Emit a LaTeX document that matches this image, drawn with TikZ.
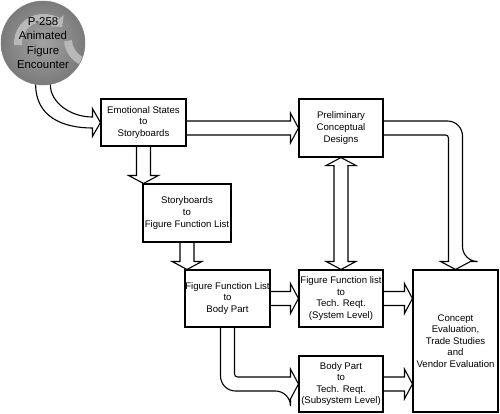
\documentclass[tikz,border=0pt]{standalone}
\usepackage{fontspec}
\setmainfont{Liberation Sans}
\usetikzlibrary{calc,arrows.meta}

% hollow block arrows: start point, tip
\newcommand{\rblock}[2]{%
  \draw[blockarr] ($(#1)+(0,-7)$) -- ($(#2)+(-8,-7)$) -- ($(#2)+(-8,-15)$) -- (#2)
    -- ($(#2)+(-8,15)$) -- ($(#2)+(-8,7)$) -- ($(#1)+(0,7)$);}
\newcommand{\dblock}[2]{%
  \draw[blockarr] ($(#1)+(-7,0)$) -- ($(#2)+(-7,-8)$) -- ($(#2)+(-15,-8)$) -- (#2)
    -- ($(#2)+(15,-8)$) -- ($(#2)+(7,-8)$) -- ($(#1)+(7,0)$);}

\begin{document}
\begin{tikzpicture}[x=1pt,y=-1pt,
  box/.style={draw, line width=1.1pt, inner sep=0pt, align=center,
    font=\fontsize{9.6}{11.6}\selectfont, minimum width=85pt, minimum height=57pt},
  blockarr/.style={draw, line width=1.1pt, line join=miter},
  swirl/.style={draw=black!28, line width=8pt, -{Triangle[length=8pt,width=17pt]}}]
  \useasboundingbox (0,0) rectangle (500,413);

  \node[circle, minimum size=84pt, inner sep=0pt, draw=black!50, line width=0.5pt,
    inner color=black!36, outer color=black!52, align=center, text=black,
    font=\fontsize{11.4}{14.5}\selectfont,
    path picture={
      \draw[swirl] (path picture bounding box.center) ++(175:25) arc (175:320:25);
      \draw[swirl] (path picture bounding box.center) ++(355:25) arc (355:140:-25);
    }] (afe) at (43,43) {P-258\\Animated\\Figure\\Encounter};

  \node[box, minimum height=47pt] (emo) at (143.5,122.5) {Emotional States\\to\\Storyboards};
  \node[box, minimum width=84pt, minimum height=58pt] (pre) at (341,128) {Preliminary\\Conceptual\\Designs};
  \node[box, minimum width=88pt, minimum height=58pt] (sfl) at (187,213) {Storyboards\\to\\Figure Function List};
  \node[box] (fbp) at (227.5,298.5) {Figure Function List\\to\\Body Part};
  \node[box, minimum width=84pt] (tsys) at (341,298.5) {Figure Function list\\to\\Tech. Reqt.\\(System Level)};
  \node[box, minimum width=84pt, minimum height=56pt] (tsub) at (341,384) {Body Part\\to\\Tech. Reqt.\\(Subsystem Level)};
  \node[box, minimum height=142pt] (cev) at (455.5,341) {Concept\\Evaluation,\\Trade Studies\\and\\Vendor Evaluation};

  % circle to first box
  \draw[blockarr] (afe.260) .. controls ($(afe.260)+(0,32)$) and ($(emo.west)+(-38,5.5)$)
    .. ($(emo.west)+(-8,5.5)$) -- ++(0,8.5) -- (emo.west) -- ($(emo.west)+(-8,-14)$)
    -- ++(0,8.5) .. controls ($(emo.west)+(-30,-5.5)$) and ($(afe.280)+(0,18)$) .. (afe.280);

  % straight arrows
  \rblock{emo.east |- pre.west}{pre.west}
  \rblock{fbp.east}{tsys.west}
  \rblock{tsys.east}{cev.west |- tsys.east}
  \rblock{tsub.east}{cev.west |- tsub.east}
  \dblock{emo.south}{emo.south |- sfl.north}
  \dblock{sfl.south}{sfl.south |- fbp.north}

  % two-way arrow
  \draw[blockarr] (pre.south) -- ++(15,8) -- ++(-8,0) -- ($(tsys.north)+(7,-8)$) -- ++(8,0)
    -- (tsys.north) -- ++(-15,-8) -- ++(8,0) -- ($(pre.south)+(-7,8)$) -- ++(-8,0) -- cycle;

  % bent arrows
  \draw[blockarr] ($(pre.east)+(0,-7)$) [rounded corners=15pt] -| ($(cev.north)+(7,-8)$)
    [sharp corners] -- ++(8,0) -- (cev.north) -- ++(-15,-8) -- ++(8,0)
    [rounded corners=3pt] |- ($(pre.east)+(0,7)$);
  \draw[blockarr] ($(fbp.south)+(-7,0)$) [rounded corners=15pt] |- ($(tsub.west)+(-8,7)$)
    [sharp corners] -- ++(0,8) -- (tsub.west) -- ++(-8,-15) -- ++(0,8)
    [rounded corners=3pt] -| ($(fbp.south)+(7,0)$);
\end{tikzpicture}
\end{document}
